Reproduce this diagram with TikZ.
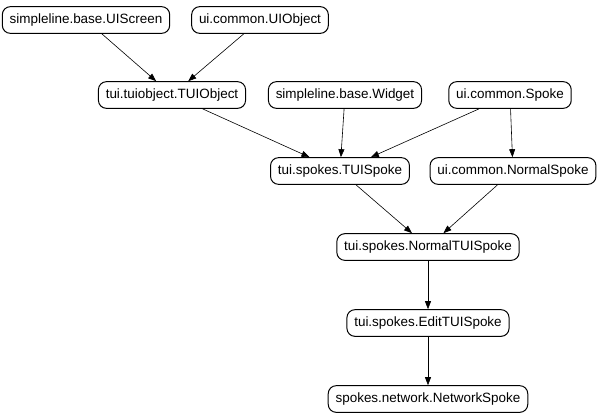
\documentclass[tikz,border=0pt]{standalone}
\usepackage{fontspec}
\setmainfont{Liberation Sans}
\usetikzlibrary{arrows.meta}
\tikzset{
  cls/.style={draw, rounded corners=6pt, line width=0.75pt, inner xsep=5.5pt, inner ysep=0pt,
    minimum height=20pt, font=\fontsize{10.1}{12}\selectfont},
}
\tikzset{
  inherit/.style={-{Triangle[length=6pt,width=4.5pt]}, line width=0.45pt},
}

\begin{document}
\begin{tikzpicture}[x=0.75pt,y=-0.75pt]
\useasboundingbox (0,0) rectangle (601,419);

% classes
\node[cls] (uiscreen) at (86,20) {simpleline.base.UIScreen};
\node[cls] (uiobject) at (260,20) {ui.common.UIObject};
\node[cls] (tuiobject) at (172,95) {tui.tuiobject.TUIObject};
\node[cls] (widget) at (345,95) {simpleline.base.Widget};
\node[cls] (spoke) at (510,95) {ui.common.Spoke};
\node[cls] (tuispoke) at (340,171) {tui.spokes.TUISpoke};
\node[cls] (normalspoke) at (513,171) {ui.common.NormalSpoke};
\node[cls] (normaltuispoke) at (428,247) {tui.spokes.NormalTUISpoke};
\node[cls] (edittuispoke) at (428,323) {tui.spokes.EditTUISpoke};
\node[cls] (networkspoke) at (428,399) {spokes.network.NetworkSpoke};

% inheritance
\draw[inherit] (uiscreen) -- (tuiobject);
\draw[inherit] (uiobject) -- (tuiobject);
\draw[inherit] (tuiobject) -- (tuispoke);
\draw[inherit] (widget) -- (tuispoke);
\draw[inherit] (spoke) -- (tuispoke);
\draw[inherit] (spoke) -- (normalspoke);
\draw[inherit] (tuispoke) -- (normaltuispoke);
\draw[inherit] (normalspoke) -- (normaltuispoke);
\draw[inherit] (normaltuispoke) -- (edittuispoke);
\draw[inherit] (edittuispoke) -- (networkspoke);

\end{tikzpicture}
\end{document}
